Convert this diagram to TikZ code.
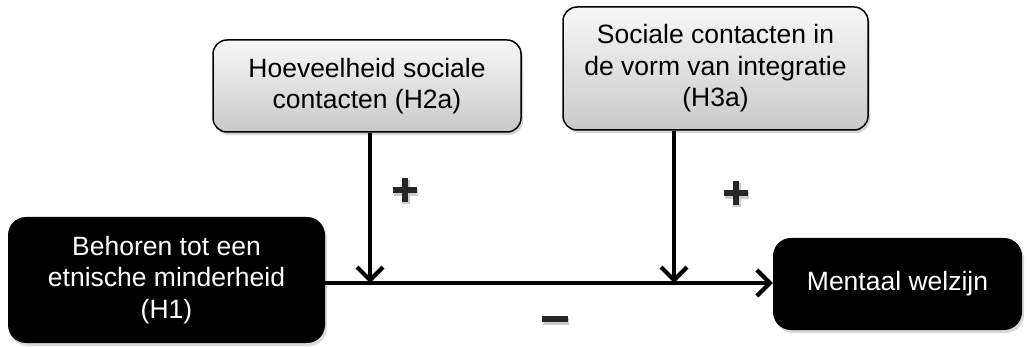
\documentclass[tikz,border=0pt]{standalone}
\usepackage{fontspec}
\setmainfont{Liberation Sans}
\usetikzlibrary{arrows.meta,shadows}
\tikzset{
  greybox/.style={draw=black, line width=1.5pt, rounded corners=14pt, top color=gray!6, bottom color=gray!42,
    align=center, font=\fontsize{26.5}{31.5}\selectfont, inner sep=0pt,
    drop shadow={shadow xshift=2pt, shadow yshift=-3pt, opacity=0.35}},
  blackbox/.style={fill=black, text=white, rounded corners=18pt, align=center,
    font=\fontsize{26.5}{31.5}\selectfont, inner sep=0pt,
    drop shadow={shadow xshift=2pt, shadow yshift=-3pt, opacity=0.3}},
  arr/.style={line width=4.2pt, -{Straight Barb[length=13pt,width=26pt,line width=4.2pt]}},
  sign/.style={line width=6.5pt, draw=black!85,
    preaction={draw=black!20, line width=7.5pt, transform canvas={xshift=1pt,yshift=-2.5pt}}},
}
\begin{document}
\begin{tikzpicture}[x=1pt,y=-1pt]
\useasboundingbox (0,0) rectangle (1030,347);
\node[greybox, minimum width=308pt, minimum height=92pt] (h2) at (367,86) {Hoeveelheid sociale\\contacten (H2a)};
\node[greybox, minimum width=305pt, minimum height=123pt] (h3) at (715.5,68.5) {Sociale contacten in\\de vorm van integratie\\(H3a)};
\node[blackbox, minimum width=317pt, minimum height=126pt] (h1) at (166.5,280) {Behoren tot een\\etnische minderheid\\(H1)};
\node[blackbox, minimum width=249pt, minimum height=92pt] (mw) at (897.5,284) {Mentaal welzijn};
\coordinate (j1) at (370,283);
\coordinate (j2) at (674,283);
\draw[line width=4.2pt] (h1.east |- j1) -- (j1);
\draw[arr] (j1) -- (mw.west |- j1);
\draw[arr] (h2.south -| j1) -- (j1);
\draw[arr] (h3.south -| j2) -- (j2);
% plus signs
\draw[sign] (393,190) -- (417,190) (405,178) -- (405,202);
\draw[sign] (724,193) -- (748,193) (736,181) -- (736,205);
% minus sign
\draw[sign] (542,319) -- (568,319);
\end{tikzpicture}
\end{document}
